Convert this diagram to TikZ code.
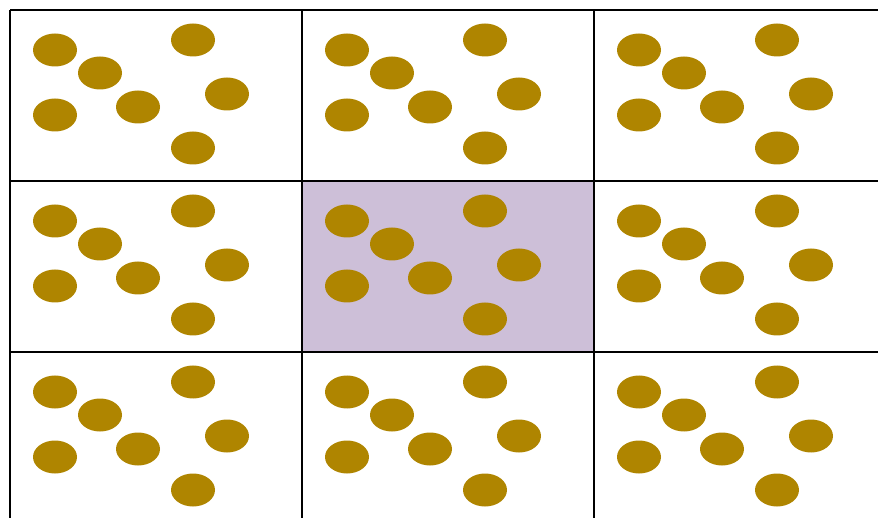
\documentclass[tikz,border=0pt]{standalone}
\usepackage{xcolor}
\usepackage{tikz}
\definecolor{dotgold}{HTML}{AF8500}
\definecolor{midlilac}{HTML}{CDBFD8}

\begin{document}
\begin{tikzpicture}[x=1pt, y=-1pt]
    \useasboundingbox (0,0) rectangle (878,518);
    \clip (0,0) rectangle (878,518);
    \fill[midlilac] (302,181) rectangle (594,352);
    \foreach \i in {0,1,2} \foreach \j in {0,1,2}
        \foreach \dx/\dy in {45/40,90/63,183/30,45/105,128/97,217/84,183/138}
            \fill[dotgold] (10+292*\i+\dx,10+171*\j+\dy) ellipse (22pt and 16.5pt);
    \foreach \r in {10,181,352} \draw[line width=1.6pt] (10,\r) -- (900,\r);
    \foreach \c in {10,302,594,886} \draw[line width=1.6pt] (\c,10) -- (\c,530);
\end{tikzpicture}
\end{document}
